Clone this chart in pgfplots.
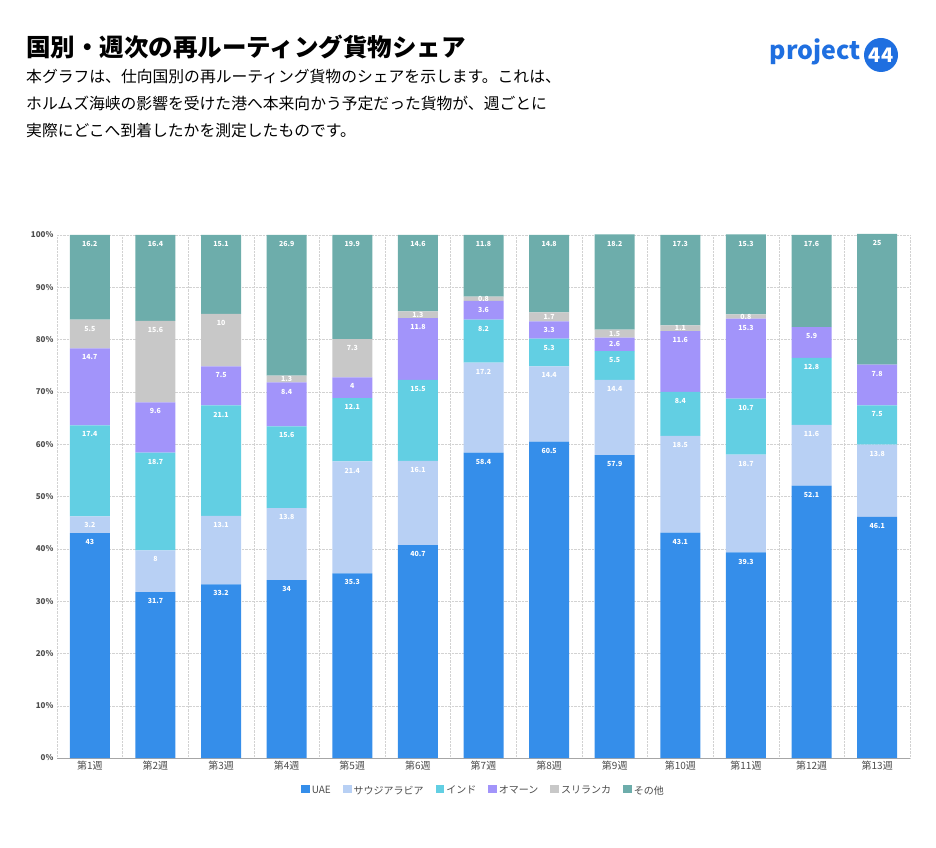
\documentclass[border=0pt]{standalone}
\usepackage{pgfplots}
\pgfplotsset{compat=1.18}
\usepackage{pgfplotstable}
\usepackage{fontspec}
\setmainfont{Noto Sans CJK JP}
\definecolor{cUAE}{HTML}{358EEA}
\definecolor{cSA}{HTML}{B8D0F4}
\definecolor{cIN}{HTML}{62CFE3}
\definecolor{cOM}{HTML}{A294FA}
\definecolor{cSL}{HTML}{C8C8C8}
\definecolor{cOT}{HTML}{6DADAB}
\definecolor{logo}{HTML}{1F6FE0}
\pgfplotstableread{
x uae sa in om sl ot
0 43 3.2 17.4 14.7 5.5 16.2
1 31.7 8 18.7 9.6 15.6 16.4
2 33.2 13.1 21.1 7.5 10 15.1
3 34 13.8 15.6 8.4 1.3 26.9
4 35.3 21.4 12.1 4 7.3 19.9
5 40.7 16.1 15.5 11.8 1.3 14.6
6 58.4 17.2 8.2 3.6 0.8 11.8
7 60.5 14.4 5.3 3.3 1.7 14.8
8 57.9 14.4 5.5 2.6 1.5 18.2
9 43.1 18.5 8.4 11.6 1.1 17.3
10 39.3 18.7 10.7 15.3 0.8 15.3
11 52.1 11.6 12.8 5.9 0 17.6
12 46.1 13.8 7.5 7.8 0 25
}\data
\begin{document}
\begin{tikzpicture}
\path (0pt,0pt) rectangle (936pt,847pt);
\node[anchor=west,inner sep=0pt,font=\fontsize{24.5}{28}\selectfont\bfseries] at (26pt,800pt) {国別・週次の再ルーティング貨物シェア};
\node[anchor=north west,inner sep=0pt,align=left,font=\fontsize{15.8}{27}\selectfont] at (26pt,778pt) {本グラフは、仕向国別の再ルーティング貨物のシェアを示します。これは、\\ホルムズ海峡の影響を受けた港へ本来向かう予定だった貨物が、週ごとに\\実際にどこへ到着したかを測定したものです。};
\node[anchor=east,text=logo,font=\fontsize{25}{28}\selectfont\bfseries] at (864pt,795pt) {project};
\fill[logo] (881pt,792pt) circle (17pt);
\node[text=white,font=\fontsize{20}{22}\selectfont\bfseries] at (881pt,792pt) {44};
\begin{axis}[at={(57pt,89pt)},anchor=south west,scale only axis,width=853pt,height=523pt,
 ybar stacked,bar width=40pt,xmin=-0.5,xmax=12.5,ymin=0,ymax=100,clip=false,
 xtick={0,...,12},xticklabels={第1週,第2週,第3週,第4週,第5週,第6週,第7週,第8週,第9週,第10週,第11週,第12週,第13週},
 ytick={0,10,...,100},yticklabel={\pgfmathprintnumber{\tick}\%},
 /pgf/number format/assume math mode=true,
 yticklabel style={font=\fontsize{8}{9}\selectfont\bfseries,text=gray!60!black},
 xticklabel style={font=\fontsize{10}{11}\selectfont,text=gray!60!black},
 minor xtick={-0.5,0.5,...,12.5},
 ymajorgrids,xminorgrids,
 major grid style={densely dotted,gray!35},minor grid style={densely dotted,gray!35},
 axis line style={draw=none},axis x line*=bottom,
 x axis line style={draw=gray!70},
 tick style={draw=none},
 visualization depends on={rawy \as \rawy},
 nodes near coords={\pgfmathfloatifflags{\pgfplotspointmeta}{0}{}{\pgfmathprintnumber{\pgfplotspointmeta}}},
 nodes near coords style={font=\fontsize{7}{8}\selectfont\bfseries,text=white,anchor=center,yshift={(\rawy<4 ? 0 : \rawy*2.615-9)*1pt}},
 point meta=explicit,
 legend style={at={(0.5,-0.045)},anchor=north,draw=none,legend columns=-1,font=\fontsize{10}{11}\selectfont,text=gray!60!black,/tikz/every even column/.append style={column sep=10pt}},
 legend image code/.code={\fill[#1] (0,-0.5ex) rectangle (1.6ex,1.1ex);},
]
\addplot[fill=cUAE,draw=none] table[x=x,y=uae,meta=uae]{\data};
\addplot[fill=cSA,draw=none] table[x=x,y=sa,meta=sa]{\data};
\addplot[fill=cIN,draw=none] table[x=x,y=in,meta=in]{\data};
\addplot[fill=cOM,draw=none] table[x=x,y=om,meta=om]{\data};
\addplot[fill=cSL,draw=none] table[x=x,y=sl,meta=sl]{\data};
\addplot[fill=cOT,draw=none] table[x=x,y=ot,meta=ot]{\data};
\legend{UAE,サウジアラビア,インド,オマーン,スリランカ,その他}
\end{axis}
\end{tikzpicture}
\end{document}
